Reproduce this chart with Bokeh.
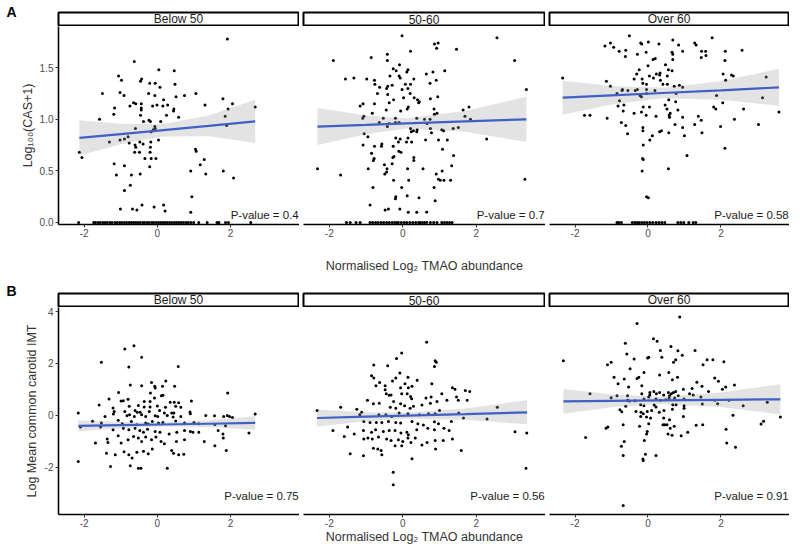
from bokeh.plotting import figure
from bokeh.layouts import row, column
from bokeh.models import Range1d, FixedTicker, Label
from bokeh.embed import file_html
from bokeh.resources import INLINE

FONT = "Liberation Sans"

groups = ["Below 50", "50-60", "Over 60"]
x_ticks = [-2, 0, 2]
x_tick_labels = ["-2", "0", "2"]
a_y_ticks = [0, 0.5, 1.0, 1.5]
a_y_tick_labels = ["0.0", "0.5", "1.0", "1.5"]
b_y_ticks = [-2, 0, 2, 4]
b_y_tick_labels = ["-2", "0", "2", "4"]
a_pvalues = ["0.4", "0.7", "0.58"]
b_pvalues = ["0.75", "0.56", "0.91"]
x_title = "Normalised Log\u2082 TMAO abundance"
a_y_title = "Log\u2081\u2080\u2080(CAS+1)"
b_y_title = "Log Mean common carotid IMT"

# ---------- Panel A: Log100(CAS+1) ----------
a1_points = [(1.91,1.78),(-0.63,1.56),(0.04,1.48),(0.46,1.47),(-1.06,1.42),(-0.98,1.38),(-0.43,1.39),(-0.46,1.37),
    (-0.21,1.35),(-0.06,1.35),(0.48,1.34),(0.07,1.31),(-1.50,1.25),(-1.02,1.26),(-0.91,1.23),(-0.24,1.25),(-0.07,1.23),
    (0.51,1.22),(0.74,1.23),(1.05,1.25),(1.79,1.20),(2.05,1.15),(2.67,1.12),(1.30,1.14),(0.17,1.19),(-0.65,1.16),
    (-0.59,1.15),(-0.75,1.13),(-0.44,1.15),(-0.44,1.11),(-0.13,1.13),(-0.01,1.14),(0.15,1.13),(0.28,1.14),(-1.17,1.11),
    (-1.19,1.05),(0.45,1.10),(0.44,1.08),(-0.44,1.09),(-0.46,1.04),(0.25,1.04),(0.58,1.02),(1.93,1.10),(1.85,1.03),
    (1.89,0.94),(-1.58,1.00),(-0.23,0.99),(-0.19,0.98),(-0.38,0.98),(0.09,0.98),(-0.07,0.93),(-0.11,0.90),(-0.06,0.91),
    (-0.60,0.91),(-0.17,0.88),(-1.31,0.78),(-1.02,0.80),(-0.90,0.81),(-0.80,0.83),(-0.77,0.77),(0.03,0.80),(-0.18,0.78),
    (-0.48,0.78),(-0.39,0.76),(-0.61,0.75),(-0.59,0.73),(-0.62,0.68),(-0.49,0.68),(-0.19,0.73),(-0.20,0.68),(-2.13,0.68),
    (-2.06,0.63),(-0.34,0.62),(-0.17,0.62),(-0.04,0.62),(1.04,0.71),(1.06,0.69),(1.28,0.61),(-1.18,0.57),(-0.90,0.55),
    (-0.21,0.54),(1.17,0.56),(0.91,0.50),(1.80,0.50),(-1.12,0.46),(-0.71,0.46),(-0.47,0.47),(1.32,0.47),(2.08,0.43),
    (-0.74,0.36),(-0.90,0.31),(0.94,0.25),(-1.01,0.13),(-0.68,0.13),(-0.42,0.17),(-0.56,0.12),(-0.09,0.15),(0.17,0.17),
    (0.21,0.11),(0.91,0.10)]
a1_zero_x = [-2.15,-1.74,-1.69,-1.62,-1.56,-1.49,-1.43,-1.37,-1.30,-1.24,-1.16,-1.10,-1.03,-0.97,-0.90,-0.84,-0.77,
    -0.71,-0.65,-0.59,-0.53,-0.47,-0.40,-0.35,-0.28,-0.22,-0.15,-0.10,-0.03,0.03,0.09,0.15,0.21,0.27,0.33,0.39,0.46,
    0.52,0.58,0.64,0.71,0.78,0.84,0.91,0.99,1.13,1.36,1.63,1.68,1.86,1.94,2.55]
a1_fit_x = [-2.13, -1.0, 0.1, 1.4, 2.67]
a1_fit_y = [0.82, 0.857, 0.893, 0.936, 0.98]
a1_fit_hw = [0.17, 0.10, 0.06, 0.10, 0.21]

a2_points = [(-0.02,1.81),(2.56,1.79),(0.86,1.73),(0.96,1.74),(0.92,1.69),(1.46,1.68),(0.21,1.66),(-1.89,1.57),
    (-0.86,1.60),(-0.42,1.63),(-0.42,1.57),(3.04,1.57),(-0.09,1.53),(-0.26,1.49),(-0.18,1.47),(0.14,1.48),(0.11,1.46),
    (0.82,1.46),(1.14,1.47),(-0.35,1.42),(-0.10,1.42),(-0.07,1.40),(-1.56,1.39),(-1.33,1.40),(-0.98,1.39),(-0.77,1.38),
    (0.30,1.39),(0.64,1.44),(0.91,1.38),(-0.76,1.34),(0.74,1.35),(-0.41,1.32),(-0.44,1.30),(-0.29,1.33),(0.07,1.34),
    (0.14,1.30),(0.21,1.34),(-0.63,1.31),(-0.02,1.29),(3.36,1.29),(-0.69,1.25),(-0.41,1.24),(0.20,1.25),(0.02,1.21),
    (0.31,1.21),(0.75,1.20),(0.95,1.22),(0.40,1.19),(0.45,1.17),(0.43,1.16),(-0.25,1.19),(-0.37,1.16),(-1.16,1.13),
    (-1.08,1.15),(-0.77,1.15),(0.15,1.12),(0.12,1.10),(0.85,1.10),(1.80,1.12),(1.64,1.09),(-0.45,1.09),(-0.06,1.08),
    (-0.83,1.06),(0.86,1.05),(0.93,1.06),(1.69,1.03),(-1.06,1.03),(-1.09,1.01),(-0.53,1.01),(-0.20,1.01),(0.38,1.01),
    (0.59,1.00),(0.74,1.00),(1.84,1.00),(-0.64,0.97),(-0.37,0.96),(-0.20,0.97),(-0.10,0.97),(0.66,0.96),(-0.42,0.93),
    (0.21,0.91),(0.29,0.89),(0.39,0.90),(0.23,0.88),(0.38,0.88),(0.75,0.91),(0.78,0.87),(1.06,0.90),(1.11,0.89),
    (1.37,0.91),(1.51,0.92),(-1.05,0.86),(-0.95,0.83),(-0.19,0.82),(-0.07,0.81),(0.14,0.82),(-0.12,0.78),(0.10,0.78),
    (0.24,0.78),(0.62,0.80),(0.97,0.80),(1.21,0.80),(2.28,0.81),(-1.08,0.75),(-0.57,0.76),(-0.58,0.74),(-0.77,0.74),
    (-0.26,0.74),(-0.85,0.67),(-0.11,0.69),(-0.05,0.68),(1.08,0.71),(-0.78,0.62),(-0.80,0.60),(-0.27,0.63),(-0.24,0.64),
    (0.30,0.63),(0.30,0.60),(1.38,0.65),(1.33,0.55),(-0.50,0.56),(-0.29,0.57),(-0.94,0.52),(-0.43,0.52),(-0.44,0.49),
    (0.13,0.52),(0.55,0.52),(1.07,0.50),(0.91,0.47),(-2.32,0.52),(-1.69,0.46),(-0.49,0.47),(-0.25,0.41),(0.16,0.41),
    (0.97,0.42),(1.02,0.41),(1.12,0.41),(1.30,0.41),(3.32,0.42),(-0.81,0.34),(-0.03,0.34),(0.85,0.34),(-0.19,0.25),
    (-0.20,0.23),(0.12,0.26),(0.44,0.24),(0.88,0.21),(-0.89,0.17),(-0.48,0.12),(-0.39,0.13),(-0.08,0.13),(0.15,0.10),
    (0.38,0.10),(0.65,0.10)]
a2_zero_x = [-1.53,-1.43,-1.27,-1.16,-0.89,-0.82,-0.74,-0.67,-0.59,-0.52,-0.44,-0.37,-0.29,-0.22,-0.16,-0.12,-0.04,
    0.04,0.11,0.19,0.27,0.35,0.43,0.47,0.53,0.59,0.65,0.75,0.84,0.93,1.06,1.13,1.20,1.27,1.34]
a2_fit_x = [-2.32, -1.0, 0.1, 1.7, 3.36]
a2_fit_y = [0.93, 0.946, 0.96, 0.98, 1.00]
a2_fit_hw = [0.18, 0.09, 0.05, 0.10, 0.22]

a3_points = [(-0.51,1.81),(1.76,1.79),(-1.18,1.71),(-1.03,1.74),(-0.94,1.70),(-0.20,1.74),(-0.17,1.73),(0.01,1.75),
    (0.30,1.73),(0.68,1.77),(0.84,1.72),(1.28,1.74),(1.32,1.72),(-0.79,1.66),(-0.61,1.67),(-0.62,1.61),(-0.29,1.63),
    (-0.05,1.65),(0.66,1.65),(0.68,1.63),(0.95,1.66),(1.47,1.66),(1.58,1.66),(1.59,1.62),(1.46,1.60),(2.12,1.66),
    (2.58,1.67),(0.14,1.58),(0.20,1.59),(0.68,1.58),(2.11,1.57),(0.00,1.52),(0.48,1.53),(0.56,1.48),(-0.24,1.48),
    (0.66,1.47),(0.33,1.45),(0.23,1.44),(0.32,1.43),(-0.31,1.44),(0.04,1.42),(0.53,1.42),(2.06,1.44),(2.29,1.43),
    (2.34,1.42),(3.24,1.41),(-2.34,1.40),(-0.38,1.39),(-0.16,1.39),(0.15,1.40),(0.34,1.38),(2.13,1.38),(-1.14,1.37),
    (-0.14,1.35),(-0.04,1.34),(0.41,1.34),(0.53,1.34),(0.72,1.32),(0.86,1.33),(0.95,1.31),(-1.03,1.32),(-0.70,1.29),
    (-0.71,1.28),(-0.55,1.28),(-0.35,1.28),(-0.29,1.29),(-0.04,1.29),(0.19,1.28),(-0.85,1.25),(-0.22,1.23),(-0.18,1.22),
    (-0.04,1.25),(0.77,1.25),(1.88,1.23),(3.14,1.21),(-0.78,1.18),(-0.66,1.14),(-0.82,1.13),(-0.13,1.12),(0.04,1.12),
    (0.47,1.14),(0.57,1.19),(0.76,1.17),(2.05,1.16),(0.52,1.10),(1.80,1.12),(1.86,1.10),(2.62,1.10),(-0.68,1.08),
    (-0.38,1.06),(-0.18,1.07),(0.61,1.06),(0.82,1.09),(-1.74,1.04),(-1.59,1.04),(-1.12,1.01),(-0.05,1.04),(0.22,1.03),
    (0.58,1.04),(0.59,1.02),(0.95,1.02),(1.38,1.03),(1.46,0.99),(2.37,1.00),(3.59,1.07),(-0.73,0.97),(-0.61,0.94),
    (1.28,0.95),(0.74,0.95),(3.03,0.95),(-0.14,0.92),(-0.14,0.89),(0.37,0.89),(0.95,0.92),(1.99,0.93),(-0.56,0.86),
    (0.12,0.84),(0.32,0.88),(0.57,0.87),(1.00,0.84),(1.48,0.87),(0.05,0.80),(-0.13,0.75),(2.11,0.72),(1.07,0.65),
    (-0.15,0.62),(-0.13,0.61),(-0.16,0.50),(0.56,0.52),(-0.04,0.25),(0.01,0.24)]
a3_zero_x = [-0.85,-0.80,-0.73,-0.43,-0.36,-0.30,-0.24,-0.17,-0.10,-0.03,0.05,0.13,0.22,0.30,0.38,0.46,0.82,0.90,
    0.98,1.12,1.24,1.31]
a3_fit_x = [-2.34, -1.0, 0.4, 2.0, 3.59]
a3_fit_y = [1.21, 1.233, 1.255, 1.28, 1.31]
a3_fit_hw = [0.165, 0.09, 0.05, 0.09, 0.18]

# ---------- Panel B: Log mean common carotid IMT ----------
b1_points = [(-0.64,2.68),(-0.89,2.55),(-0.43,2.24),(-1.53,2.04),(-0.78,1.86),(0.57,1.88),(-0.74,1.17),(-1.06,0.88),
    (-0.16,1.27),(0.23,1.32),(-0.07,1.12),(-0.06,1.05),(0.14,1.12),(-0.43,1.14),(0.47,1.12),(-0.19,0.86),(0.11,0.76),
    (0.15,0.78),(-0.08,0.67),(1.92,0.86),(-1.32,0.63),(-0.99,0.55),(-0.93,0.56),(-0.80,0.62),(-0.36,0.54),(-0.20,0.54),
    (0.35,0.51),(0.46,0.51),(0.58,0.49),(0.93,0.55),(-1.59,0.40),(-1.21,0.29),(-0.77,0.35),(-0.52,0.38),(-0.36,0.32),
    (-0.20,0.32),(0.00,0.36),(0.22,0.31),(0.50,0.35),(0.64,0.31),(-1.18,0.15),(-0.89,0.15),(-0.61,0.19),(-0.55,0.12),
    (-0.47,0.12),(-0.22,0.15),(0.06,0.19),(0.19,0.09),(0.39,0.09),(0.45,0.09),(0.89,0.13),(-2.16,0.09),(-1.43,-0.04),
    (-1.20,0.05),(-0.83,-0.01),(-0.76,0.03),(-0.63,-0.04),(-0.43,0.03),(-0.32,-0.04),(-0.06,-0.01),(0.01,-0.04),
    (0.27,0.00),(0.43,-0.06),(0.64,-0.04),(0.90,0.06),(1.32,0.00),(1.56,-0.01),(1.81,-0.04),(1.91,0.00),(1.97,-0.04),
    (2.05,-0.08),(2.67,0.05),(-1.77,-0.22),(-1.53,-0.29),(-1.07,-0.19),(-0.96,-0.32),(-0.71,-0.23),(-0.56,-0.36),
    (-0.32,-0.29),(-0.25,-0.33),(-0.14,-0.23),(0.03,-0.29),(0.15,-0.27),(0.50,-0.21),(0.74,-0.29),(1.00,-0.27),
    (1.13,-0.32),(1.57,-0.35),(1.86,-0.40),(-2.10,-0.45),(-1.55,-0.45),(-1.21,-0.55),(-0.93,-0.49),(-0.78,-0.55),
    (-0.61,-0.49),(-0.48,-0.58),(-0.38,-0.65),(-0.27,-0.53),(-0.06,-0.62),(0.07,-0.65),(0.32,-0.71),(0.53,-0.65),
    (0.74,-0.58),(0.90,-0.62),(0.97,-0.65),(1.13,-0.65),(1.66,-0.58),(1.79,-0.71),(2.50,-0.68),(-1.69,-1.06),
    (-1.37,-0.91),(-1.35,-1.04),(-1.07,-0.78),(-0.99,-1.06),(-0.80,-0.94),(-0.65,-0.81),(-0.52,-0.87),(-0.43,-1.00),
    (-0.32,-0.83),(-0.16,-0.94),(-0.04,-0.83),(0.10,-1.00),(0.19,-1.09),(0.52,-1.00),(0.74,-0.94),(1.28,-1.00),
    (1.80,-0.87),(1.57,-1.17),(-1.39,-1.45),(-1.15,-1.51),(-0.91,-1.40),(-0.78,-1.51),(-0.69,-1.64),(-0.56,-1.42),
    (-0.38,-1.38),(-0.25,-1.47),(-0.14,-1.29),(0.39,-1.35),(0.44,-1.45),(0.58,-1.51),(0.72,-1.49),(1.88,-1.35),
    (-2.16,-1.77),(-1.28,-1.96),(-0.74,-1.94),(-0.52,-2.03),(-0.45,-2.03),(0.27,-2.03)]
b1_fit_x = [-2.16, -1.0, 0.1, 1.4, 2.67]
b1_fit_y = [-0.40, -0.375, -0.35, -0.32, -0.29]
b1_fit_hw = [0.21, 0.12, 0.08, 0.13, 0.26]

b2_points = [(0.65,2.81),(-0.03,2.40),(-0.17,2.19),(0.88,2.10),(0.91,2.04),(-0.79,1.94),(-0.41,1.91),(0.86,1.88),
    (-0.08,1.63),(-0.85,1.53),(-0.79,1.44),(-0.19,1.44),(0.14,1.47),(0.39,1.35),(-0.63,1.27),(-0.28,1.32),(0.06,1.22),
    (-0.73,1.14),(-0.48,1.14),(-0.06,1.06),(0.15,1.06),(0.25,1.12),(0.79,1.22),(1.35,1.06),(1.42,1.01),(1.70,0.96),
    (1.82,0.92),(-0.48,0.99),(-0.45,0.83),(-0.37,0.78),(-0.32,0.79),(-0.03,0.83),(0.12,0.83),(0.21,0.73),(0.24,0.64),
    (0.63,0.67),(0.77,0.71),(1.06,0.83),(1.20,0.58),(1.46,0.71),(1.51,0.58),(1.75,0.58),(-0.96,0.58),(-0.80,0.45),
    (-0.64,0.47),(-0.25,0.54),(-0.06,0.45),(0.05,0.37),(0.52,0.40),(0.75,0.47),(0.93,0.54),(-1.69,0.31),(-1.25,0.24),
    (-1.12,0.12),(-0.34,0.31),(-0.19,0.28),(0.20,0.28),(0.29,0.35),(1.00,0.19),(2.57,0.31),(-2.33,0.19),(-1.17,0.03),
    (-0.65,0.03),(-0.46,0.03),(-0.30,-0.04),(-0.10,0.09),(0.14,0.06),(0.45,0.03),(0.70,0.06),(0.88,0.06),(1.52,0.09),
    (1.65,-0.10),(2.29,-0.14),(-1.50,-0.45),(-1.06,-0.23),(-0.89,-0.27),(-0.72,-0.27),(-0.57,-0.27),(-0.39,-0.23),
    (-0.19,-0.27),(-0.06,-0.29),(0.25,-0.23),(0.41,-0.32),(0.56,-0.37),(0.86,-0.24),(0.97,-0.32),(1.32,-0.23),
    (-1.90,-0.58),(-1.59,-0.81),(-1.32,-0.71),(-1.07,-0.58),(-0.85,-0.65),(-0.74,-0.55),(-0.53,-0.62),(-0.37,-0.58),
    (-0.21,-0.58),(-0.05,-0.68),(0.11,-0.65),(0.15,-0.74),(0.38,-0.55),(0.68,-0.49),(0.86,-0.55),(1.12,-0.49),
    (1.26,-0.58),(3.05,-0.63),(3.37,-0.68),(-1.06,-0.91),(-0.95,-0.87),(-0.83,-0.91),(-0.66,-0.83),(-0.44,-0.91),
    (-0.32,-0.96),(-0.12,-0.94),(0.00,-1.00),(0.14,-0.87),(0.22,-1.04),(0.34,-0.87),(0.66,-1.04),(0.88,-0.96),
    (1.10,-0.96),(1.35,-0.91),(-0.80,-1.26),(-0.68,-1.29),(-0.59,-1.35),(-0.21,-1.17),(-0.03,-1.17),(0.52,-1.14),
    (0.89,-1.29),(1.59,-1.35),(-1.43,-1.47),(-1.07,-1.55),(-0.57,-1.51),(0.25,-1.67),(3.35,-2.03),(-0.26,-2.19),
    (-0.26,-2.67)]
b2_fit_x = [-2.33, -1.0, 0.1, 1.7, 3.38]
b2_fit_y = [-0.10, -0.05, -0.01, 0.05, 0.12]
b2_fit_hw = [0.33, 0.17, 0.12, 0.22, 0.46]

b3_points = [(0.87,3.78),(-0.30,3.53),(0.15,2.95),(0.25,2.85),(-0.62,2.78),(0.63,2.65),(0.34,2.50),(0.82,2.49),
    (1.29,2.50),(-0.58,2.36),(0.02,2.24),(-0.01,2.21),(0.38,2.24),(0.94,2.31),(-0.38,2.17),(0.76,2.14),(0.70,2.04),
    (1.62,2.14),(1.78,2.14),(2.08,2.06),(-2.32,2.10),(-1.11,1.95),(-1.01,2.04),(1.51,1.95),(-0.49,1.79),(-0.11,1.65),
    (-0.93,1.47),(-0.30,1.42),(-0.25,1.47),(0.32,1.55),(0.57,1.65),(0.67,1.37),(0.81,1.47),(1.83,1.44),(1.93,1.31),
    (-0.65,1.40),(1.34,1.28),(-0.82,1.22),(-0.53,1.09),(-0.17,1.14),(0.05,0.88),(0.16,0.92),(0.32,0.88),(0.56,0.88),
    (0.70,0.88),(0.76,0.92),(0.97,1.01),(1.21,1.04),(1.48,1.12),(2.04,1.01),(2.13,1.09),(2.37,1.17),(-1.59,0.83),
    (-0.85,0.76),(-0.56,0.76),(-0.17,0.83),(0.05,0.79),(0.23,0.83),(0.43,0.79),(0.59,0.76),(0.64,0.83),(0.83,0.76),
    (1.14,0.83),(1.45,0.71),(1.66,0.92),(-1.01,0.68),(0.02,0.71),(0.58,0.67),(1.24,0.79),(2.22,0.58),(-0.56,0.58),
    (-0.36,0.56),(-0.11,0.63),(0.22,0.63),(0.34,0.58),(0.49,0.60),(0.73,0.67),(0.99,0.63),(1.83,0.58),(-0.51,0.55),
    (-0.61,0.35),(-0.20,0.41),(-0.11,0.37),(0.17,0.40),(0.22,0.32),(0.68,0.41),(0.77,0.41),(0.99,0.37),(1.49,0.44),
    (1.91,0.45),(2.61,0.37),(3.27,0.51),(-0.77,0.22),(-0.72,0.14),(-0.33,0.15),(-0.19,0.12),(-0.02,0.15),(0.10,0.19),
    (0.31,0.12),(0.44,0.19),(0.67,0.24),(0.99,0.28),(2.33,0.01),(3.63,-0.06),(-0.20,-0.04),(-0.13,0.06),(-0.04,-0.06),
    (0.43,-0.10),(0.07,-0.10),(0.59,-0.17),(0.97,-0.04),(3.10,-0.33),(3.17,-0.22),(-1.15,-0.49),(-1.10,-0.45),
    (-0.68,-0.36),(-0.23,-0.42),(0.02,-0.32),(0.41,-0.36),(0.46,-0.36),(0.52,-0.36),(0.61,-0.49),(0.72,-0.42),
    (1.32,-0.38),(1.50,-0.36),(2.14,-0.53),(-1.71,-0.85),(-0.02,-0.62),(-0.04,-0.71),(0.55,-0.71),(0.66,-0.76),
    (0.91,-0.78),(1.09,-0.65),(-0.10,-0.96),(-0.65,-1.00),(2.16,-1.06),(2.40,-1.22),(-0.73,-1.19),(-0.68,-1.54),
    (-0.07,-1.49),(0.22,-1.54),(-0.14,-1.68),(-0.13,-1.73),(-0.68,-3.46)]
b3_fit_x = [-2.32, -1.0, 0.3, 2.0, 3.63]
b3_fit_y = [0.54, 0.56, 0.575, 0.60, 0.62]
b3_fit_hw = [0.48, 0.25, 0.14, 0.28, 0.58]

# ---------- layout constants (pixels) ----------
X_RANGE = (-2.7, 3.88)
A_Y_RANGE = (-0.02, 1.90)
B_Y_RANGE = (-3.81, 4.15)
COL_W = [299, 246, 244]
COL_BL = [58, 4, 4]
STRIP_H = 13
POINT_COLOR = "black"
LINE_COLOR = "#3f60c6"
BAND_COLOR = "#999999"


def strip_fig(i, label, total_h, letter=None, letter_y=0):
    w = COL_W[i]
    s = figure(width=w, height=total_h, x_range=Range1d(0, w), y_range=Range1d(0, total_h),
               x_axis_type=None, y_axis_type=None, toolbar_location=None, output_backend="svg",
               min_border=0, outline_line_color=None, background_fill_color="white")
    s.frame_align = False
    left, right, bottom, top = COL_BL[i], w - 1, 1, STRIP_H + 1
    s.quad(left=[left], right=[right], bottom=[bottom], top=[top], fill_color="white",
           line_color="black", line_width=2)
    s.add_layout(Label(x=(left + right) / 2, y=(bottom + top) / 2, text=label, text_align="center",
                       text_baseline="middle", text_font=FONT, text_font_size="12px", text_color="#1a1a1a"))
    if letter:
        s.add_layout(Label(x=6, y=letter_y, text=letter, text_align="left", text_baseline="middle",
                           text_font=FONT, text_font_size="14px", text_font_style="bold", text_color="black"))
    return s


def main_fig(i, yr, height, border_b, pts, zero_x, fx, fy, fhw, yticks, ylabels, ytitle, ystand,
             pval, pval_y, xtitle_stand):
    p = figure(width=COL_W[i], height=height, x_range=Range1d(*X_RANGE), y_range=Range1d(*yr),
               toolbar_location=None, output_backend="svg",
               min_border_left=COL_BL[i], min_border_right=0, min_border_top=0, min_border_bottom=border_b,
               outline_line_color=None, background_fill_color="white")
    p.frame_align = False
    p.xgrid.visible = False
    p.ygrid.visible = False
    lo = [a - b for a, b in zip(fy, fhw)]
    hi = [a + b for a, b in zip(fy, fhw)]
    xs = [q[0] for q in pts] + list(zero_x)
    ys = [q[1] for q in pts] + [0.0] * len(zero_x)
    p.scatter(xs, ys, size=3, color=POINT_COLOR, line_color=None)
    p.varea(x=fx, y1=lo, y2=hi, fill_color=BAND_COLOR, fill_alpha=0.28)
    p.line(fx, fy, line_color=LINE_COLOR, line_width=2.2)

    for ax in (p.xaxis[0], p.yaxis[0]):
        ax.axis_line_color = "black"
        ax.axis_line_width = 1.6
        ax.major_tick_line_color = "#333333"
        ax.major_tick_in = 0
        ax.major_tick_out = 3
        ax.minor_tick_line_color = None
        ax.major_label_text_font = FONT
        ax.major_label_text_font_size = "10px"
        ax.major_label_text_color = "#4d4d4d"
        ax.axis_label_text_font = FONT
        ax.axis_label_text_font_size = "12.5px"
        ax.axis_label_text_font_style = "normal"
        ax.axis_label_text_color = "#333333"
    p.xaxis.ticker = FixedTicker(ticks=x_ticks)
    p.xaxis.major_label_overrides = dict(zip(x_ticks, x_tick_labels))
    p.xaxis.major_label_standoff = 1
    p.yaxis.ticker = FixedTicker(ticks=yticks)
    p.yaxis.major_label_overrides = dict(zip(yticks, ylabels))
    p.yaxis.major_label_standoff = 2
    if i == 0:
        p.yaxis.axis_label = ytitle
        p.yaxis.axis_label_standoff = ystand
    else:
        p.yaxis.visible = False
    if i == 1:
        p.xaxis.axis_label = x_title
        p.xaxis.axis_label_standoff = xtitle_stand
    p.add_layout(Label(x=X_RANGE[1] - 0.02, y=pval_y, text="P-value = " + pval, text_align="right",
                       text_baseline="middle", text_font=FONT, text_font_size="11.5px", text_color="#1a1a1a"))
    return p


a_data = [(a1_points, a1_zero_x, a1_fit_x, a1_fit_y, a1_fit_hw),
          (a2_points, a2_zero_x, a2_fit_x, a2_fit_y, a2_fit_hw),
          (a3_points, a3_zero_x, a3_fit_x, a3_fit_y, a3_fit_hw)]
b_data = [(b1_points, [], b1_fit_x, b1_fit_y, b1_fit_hw),
          (b2_points, [], b2_fit_x, b2_fit_y, b2_fit_hw),
          (b3_points, [], b3_fit_x, b3_fit_y, b3_fit_hw)]

row_a = []
row_b = []
for i in range(3):
    sa = strip_fig(i, groups[i], 26, "A" if i == 0 else None, 15)
    pts, zx, fx, fy, fhw = a_data[i]
    ma = main_fig(i, A_Y_RANGE, 250, 52, pts, zx, fx, fy, fhw, a_y_ticks, a_y_tick_labels, a_y_title, 2,
                  a_pvalues[i], 0.076, 19)
    row_a.append(column(sa, ma, spacing=0))

    sb = strip_fig(i, groups[i], 31, "B" if i == 0 else None, 17)
    pts, zx, fx, fy, fhw = b_data[i]
    mb = main_fig(i, B_Y_RANGE, 241, 34, pts, zx, fx, fy, fhw, b_y_ticks, b_y_tick_labels, b_y_title, 3,
                  b_pvalues[i], -3.08, 0)
    row_b.append(column(sb, mb, spacing=0))

layout = column(row(*row_a, spacing=0), row(*row_b, spacing=0), spacing=0)

open("out.html", "w").write(file_html(layout, INLINE))
